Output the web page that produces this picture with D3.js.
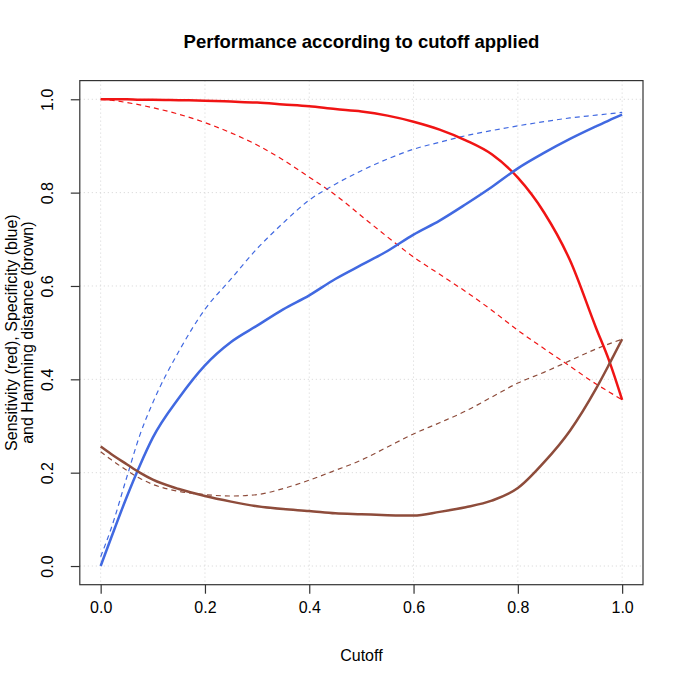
<!DOCTYPE html>
<html>
<head>
<meta charset="utf-8">
<script src="https://cdn.jsdelivr.net/npm/d3@7"></script>
<style>
  body { margin: 0; background: #fff; }
  text { font-family: "Liberation Sans", Arial, sans-serif; fill: #000; }
</style>
</head>
<body>
<div id="chart"></div>
<script>
// Cutoff values (shared x positions for every series)
const cutoffs = [0, 0.02, 0.05, 0.075, 0.1, 0.15, 0.2, 0.25, 0.3, 0.35, 0.4, 0.45,
                 0.5, 0.55, 0.6, 0.65, 0.7, 0.75, 0.8, 0.85, 0.9, 0.95, 0.975, 1.0];

// Sensitivity (red)
const sensSolid = [1.0, 1.0, 1.0, 0.999, 0.999, 0.998, 0.997, 0.995, 0.993, 0.989, 0.985, 0.979,
                   0.974, 0.965, 0.952, 0.935, 0.912, 0.882, 0.832, 0.758, 0.655, 0.51, 0.44, 0.356];
const sensDashed = [1.0, 0.998, 0.993, 0.988, 0.982, 0.968, 0.95, 0.928, 0.902, 0.87, 0.833, 0.795,
                    0.75, 0.705, 0.662, 0.625, 0.588, 0.548, 0.505, 0.466, 0.428, 0.39, 0.373, 0.356];

// Specificity (blue)
const specSolid = [0.0, 0.06, 0.148, 0.215, 0.275, 0.36, 0.43, 0.48, 0.515, 0.55, 0.58, 0.615,
                   0.645, 0.675, 0.71, 0.74, 0.775, 0.812, 0.852, 0.885, 0.915, 0.942, 0.955, 0.967];
const specDashed = [0.02, 0.08, 0.19, 0.28, 0.35, 0.46, 0.55, 0.615, 0.68, 0.735, 0.784, 0.818,
                    0.847, 0.872, 0.893, 0.908, 0.922, 0.933, 0.943, 0.952, 0.96, 0.966, 0.969, 0.972];

// Hamming distance (brown)
const hammSolid = [0.256, 0.24, 0.218, 0.2, 0.185, 0.165, 0.15, 0.138, 0.128, 0.122, 0.118, 0.113,
                   0.111, 0.109, 0.108, 0.116, 0.126, 0.14, 0.167, 0.222, 0.29, 0.38, 0.432, 0.486];
const hammDashed = [0.245, 0.228, 0.205, 0.188, 0.175, 0.16, 0.153, 0.15, 0.153, 0.166, 0.184, 0.205,
                    0.227, 0.255, 0.283, 0.307, 0.332, 0.362, 0.392, 0.415, 0.44, 0.465, 0.476, 0.486];

const tickValues = [0, 0.2, 0.4, 0.6, 0.8, 1.0];

// Colours
const red = "#f01414";
const blue = "#4169e1";
const brown = "#8e4c3b";

const width = 685;
const height = 685;
const margin = {top: 80.6, left: 79.8, right: 42, bottom: 100.3};

const svg = d3.select("#chart")
  .append("svg")
    .attr("width", width)
    .attr("height", height);

// R style: axes extended by 4% each side
const xScale = d3.scaleLinear()
  .domain([-0.04, 1.04])
  .range([margin.left, width - margin.right]);
const yScale = d3.scaleLinear()
  .domain([-0.04, 1.04])
  .range([height - margin.bottom, margin.top]);

const x0 = xScale.range()[0], x1 = xScale.range()[1];
const y0 = yScale.range()[0], y1 = yScale.range()[1];

// Grid (dotted light grey)
const grid = svg.append("g").attr("class", "grid");
tickValues.forEach(t => {
  grid.append("line")
    .attr("x1", xScale(t)).attr("x2", xScale(t))
    .attr("y1", y1).attr("y2", y0);
  grid.append("line")
    .attr("x1", x0).attr("x2", x1)
    .attr("y1", yScale(t)).attr("y2", yScale(t));
});
grid.selectAll("line")
  .attr("stroke", "#d3d3d3")
  .attr("stroke-width", 1)
  .attr("stroke-dasharray", "1,3");

// Series
const series = [
  {values: sensDashed, color: red, dashed: true},
  {values: specDashed, color: blue, dashed: true},
  {values: hammDashed, color: brown, dashed: true},
  {values: sensSolid, color: red, dashed: false},
  {values: specSolid, color: blue, dashed: false},
  {values: hammSolid, color: brown, dashed: false}
];

const line = d3.line()
  .x(d => xScale(d[0]))
  .y(d => yScale(d[1]))
  .curve(d3.curveMonotoneX);

series.forEach(s => {
  svg.append("path")
    .datum(cutoffs.map((c, i) => [c, s.values[i]]))
    .attr("fill", "none")
    .attr("stroke", s.color)
    .attr("stroke-width", s.dashed ? 1.2 : 2.5)
    .attr("stroke-dasharray", s.dashed ? "5,4" : null)
    .attr("stroke-linejoin", "round")
    .attr("d", line);
});

// Box
svg.append("rect")
  .attr("x", x0).attr("y", y1)
  .attr("width", x1 - x0).attr("height", y0 - y1)
  .attr("fill", "none")
  .attr("stroke", "#333")
  .attr("stroke-width", 1.2);

// Axes
const fmt = d3.format(".1f");
const xAxis = svg.append("g")
  .attr("transform", `translate(0, ${y0})`)
  .call(d3.axisBottom(xScale).tickValues(tickValues).tickFormat(fmt).tickSize(9).tickPadding(8));
const yAxis = svg.append("g")
  .attr("transform", `translate(${x0}, 0)`)
  .call(d3.axisLeft(yScale).tickValues(tickValues).tickFormat(fmt).tickSize(9));

[xAxis, yAxis].forEach(ax => {
  ax.select(".domain").remove();
  ax.selectAll(".tick line").attr("stroke", "#333").attr("stroke-width", 1.2);
  ax.selectAll(".tick text")
    .style("font-size", "16px")
    .style("font-family", "'Liberation Sans', Arial, sans-serif")
    .attr("fill", "#111");
});

// Rotated y tick labels (R default las = 0)
yAxis.selectAll(".tick text")
  .attr("x", null).attr("dy", null)
  .attr("text-anchor", "middle")
  .attr("dominant-baseline", "central")
  .attr("transform", "translate(-32, 0) rotate(-90)");

// Title
svg.append("text")
  .attr("x", (x0 + x1) / 2)
  .attr("y", 48)
  .attr("text-anchor", "middle")
  .style("font-size", "18.5px")
  .style("font-weight", "bold")
  .text("Performance according to cutoff applied");

// X label
svg.append("text")
  .attr("x", (x0 + x1) / 2)
  .attr("y", 661)
  .attr("text-anchor", "middle")
  .style("font-size", "16px")
  .text("Cutoff");

// Y label (two lines)
const yMid = (y0 + y1) / 2;
["Sensitivity (red), Specificity (blue)", "and Hamming distance (brown)"].forEach((t, i) => {
  svg.append("text")
    .attr("transform", `translate(${11 + i * 16}, ${yMid}) rotate(-90)`)
    .attr("text-anchor", "middle")
    .attr("dominant-baseline", "central")
    .style("font-size", "16px")
    .text(t);
});
</script>
</body>
</html>
